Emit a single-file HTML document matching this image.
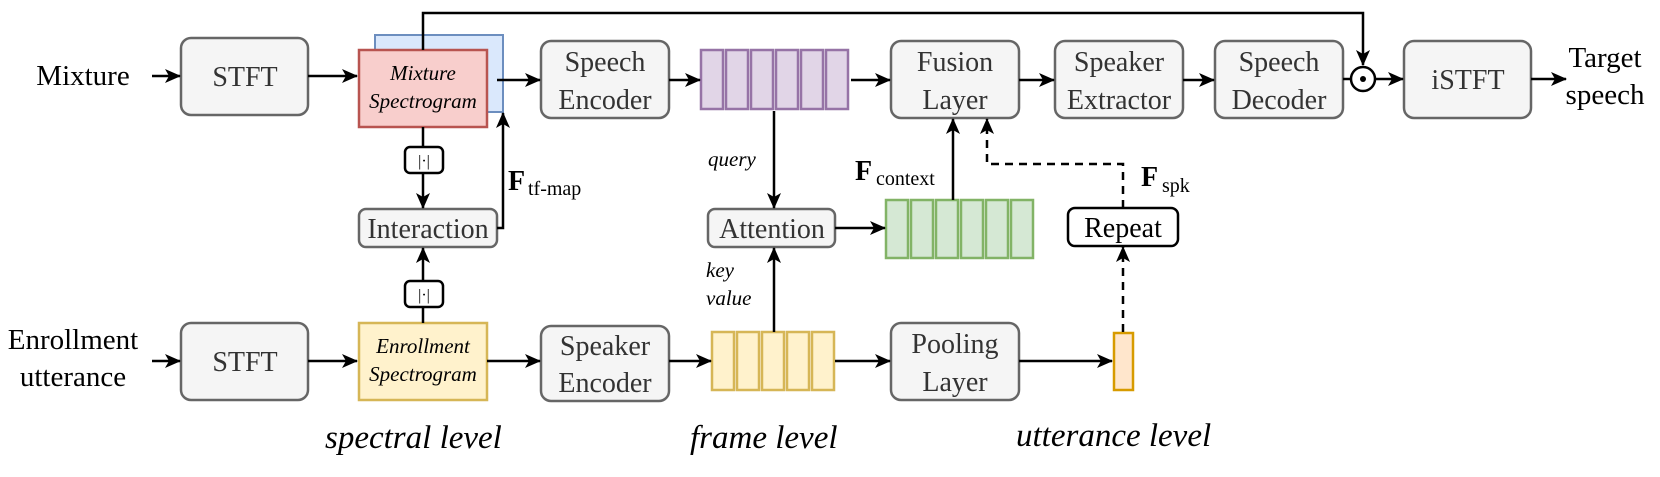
<!DOCTYPE html>
<html><head><meta charset="utf-8"><style>
html,body{margin:0;padding:0;background:#fff;}
svg{display:block;}
svg text{font-family:"Liberation Serif","Times New Roman","Nimbus Roman",serif !important;fill:#000;}
.b{font-size:28px;}
.b text{fill:#333;}
</style></head><body>
<svg width="1660" height="477" viewBox="0 0 1660 477" xmlns="http://www.w3.org/2000/svg" font-family="Liberation Serif, serif">
<defs>
<marker id="a" markerWidth="16" markerHeight="14" refX="15" refY="7" orient="auto" markerUnits="userSpaceOnUse">
<path d="M0,0 L16,7 L0,14 L4,7 Z" fill="#000"/>
</marker>
</defs>
<g stroke="#666" stroke-width="2.5" fill="#f5f5f5">
<rect x="181" y="38" width="127" height="77" rx="10"/>
<rect x="541" y="41" width="128" height="77" rx="10"/>
<rect x="891" y="41" width="128" height="77" rx="10"/>
<rect x="1055" y="41" width="128" height="77" rx="10"/>
<rect x="1215" y="41" width="128" height="77" rx="10"/>
<rect x="1404" y="41" width="127" height="77" rx="10"/>
<rect x="359" y="209" width="138" height="38" rx="7"/>
<rect x="708" y="209" width="127" height="38" rx="7"/>
<rect x="181" y="323" width="127" height="77" rx="10"/>
<rect x="541" y="326" width="128" height="75" rx="10"/>
<rect x="891" y="323" width="128" height="77" rx="10"/>
</g>
<rect x="375" y="35" width="128" height="77" fill="#dae8fc" stroke="#6c8ebf" stroke-width="2"/>
<rect x="359" y="50" width="128" height="77" fill="#f8cecc" stroke="#b85450" stroke-width="2.5"/>
<rect x="359" y="323" width="128" height="77" fill="#fff2cc" stroke="#d6b656" stroke-width="2.5"/>
<g fill="#e1d5e7" stroke="#9673a6" stroke-width="2.5">
<rect x="701" y="50" width="22" height="59"/><rect x="726" y="50" width="22" height="59"/><rect x="751" y="50" width="22" height="59"/><rect x="776" y="50" width="22" height="59"/><rect x="801" y="50" width="22" height="59"/><rect x="826" y="50" width="22" height="59"/>
</g>
<g fill="#d5e8d4" stroke="#82b366" stroke-width="2.5">
<rect x="886" y="200" width="22" height="58"/><rect x="911" y="200" width="22" height="58"/><rect x="936" y="200" width="22" height="58"/><rect x="961" y="200" width="22" height="58"/><rect x="986" y="200" width="22" height="58"/><rect x="1011" y="200" width="22" height="58"/>
</g>
<g fill="#fff2cc" stroke="#d6b656" stroke-width="2.5">
<rect x="712" y="332" width="22" height="58"/><rect x="737" y="332" width="22" height="58"/><rect x="762" y="332" width="22" height="58"/><rect x="787" y="332" width="22" height="58"/><rect x="812" y="332" width="22" height="58"/>
</g>
<rect x="1114" y="333" width="19" height="57" fill="#ffe6cc" stroke="#d79b00" stroke-width="2.5"/>
<rect x="1068" y="208" width="110" height="38" rx="7" fill="#fff" stroke="#000" stroke-width="2.5"/>
<g fill="#fff" stroke="#000" stroke-width="2.5">
<rect x="405" y="147" width="38" height="26" rx="5"/>
<rect x="405" y="281" width="38" height="26" rx="5"/>
</g>
<g stroke="#000" stroke-width="2.5" fill="none" marker-end="url(#a)">
<line x1="152" y1="76" x2="180" y2="76"/>
<line x1="308" y1="76" x2="357" y2="76"/>
<line x1="497" y1="80" x2="540" y2="80"/>
<line x1="669" y1="80" x2="700" y2="80"/>
<line x1="851" y1="80" x2="890" y2="80"/>
<line x1="1019" y1="80" x2="1054" y2="80"/>
<line x1="1183" y1="80" x2="1214" y2="80"/>
<line x1="1376" y1="79" x2="1403" y2="79"/>
<line x1="1531" y1="79" x2="1566" y2="79"/>
<polyline points="423,50 423,13 1363,13 1363,65"/>
<line x1="423" y1="173" x2="423" y2="208"/>
<line x1="423" y1="281" x2="423" y2="248"/>
<polyline points="497,228 503,228 503,113"/>
<line x1="774" y1="111" x2="774" y2="208"/>
<line x1="774" y1="332" x2="774" y2="248"/>
<line x1="835" y1="228" x2="885" y2="228"/>
<line x1="953" y1="200" x2="953" y2="119"/>
<line x1="152" y1="361" x2="180" y2="361"/>
<line x1="308" y1="361" x2="357" y2="361"/>
<line x1="487" y1="361" x2="540" y2="361"/>
<line x1="669" y1="361" x2="711" y2="361"/>
<line x1="835" y1="361" x2="890" y2="361"/>
<line x1="1019" y1="361" x2="1112" y2="361"/>
<polyline points="1123,208 1123,164 987,164 987,119" stroke-dasharray="8,6"/>
<line x1="1123" y1="332" x2="1123" y2="247" stroke-dasharray="8,6"/>
</g>
<line x1="423" y1="127" x2="423" y2="147" stroke="#000" stroke-width="2.5"/>
<line x1="423" y1="307" x2="423" y2="323" stroke="#000" stroke-width="2.5"/>
<line x1="1343" y1="79" x2="1350" y2="79" stroke="#000" stroke-width="2.5"/>
<circle cx="1363" cy="79" r="12" fill="#fff" stroke="#000" stroke-width="2.5"/>
<circle cx="1363" cy="79" r="3" fill="#000"/>
<text x="83" y="85" font-size="29" text-anchor="middle">Mixture</text>
<text x="73" y="349" font-size="29" text-anchor="middle">Enrollment</text>
<text x="73" y="386" font-size="29" text-anchor="middle">utterance</text>
<text x="1605" y="67" font-size="29" text-anchor="middle">Target</text>
<text x="1605" y="104" font-size="29" text-anchor="middle">speech</text>
<g class="b" font-size="28" text-anchor="middle">
<text x="245" y="86">STFT</text>
<text x="245" y="371">STFT</text>
<text x="605" y="71">Speech</text><text x="605" y="109">Encoder</text>
<text x="955" y="71">Fusion</text><text x="955" y="109">Layer</text>
<text x="1119" y="71">Speaker</text><text x="1119" y="109">Extractor</text>
<text x="1279" y="71">Speech</text><text x="1279" y="109">Decoder</text>
<text x="1468" y="89">iSTFT</text>
<text x="605" y="355">Speaker</text><text x="605" y="392">Encoder</text>
<text x="955" y="353">Pooling</text><text x="955" y="391">Layer</text>
<text x="428" y="238">Interaction</text>
<text x="772" y="238">Attention</text>
<text x="1123" y="237" style="fill:#000">Repeat</text>
</g>
<g font-style="italic" font-size="21" text-anchor="middle">
<text x="423" y="80">Mixture</text><text x="423" y="108">Spectrogram</text>
<text x="423" y="353">Enrollment</text><text x="423" y="381">Spectrogram</text>
</g>
<g font-style="italic" font-size="21">
<text x="708" y="166">query</text>
<text x="706" y="277">key</text>
<text x="706" y="305">value</text>
</g>
<g font-size="16" text-anchor="middle"><text x="424" y="166">|·|</text><text x="424" y="300">|·|</text></g>
<text x="508" y="190" font-size="28" font-weight="bold">F</text><text x="528" y="195" font-size="20">tf-map</text>
<text x="855" y="180" font-size="28" font-weight="bold">F</text><text x="876" y="185" font-size="20">context</text>
<text x="1141" y="186" font-size="28" font-weight="bold">F</text><text x="1162" y="192" font-size="20">spk</text>
<g font-style="italic" font-size="33">
<text x="325" y="448">spectral level</text>
<text x="690" y="448">frame level</text>
<text x="1016" y="446">utterance level</text>
</g>
</svg>
</body></html>
